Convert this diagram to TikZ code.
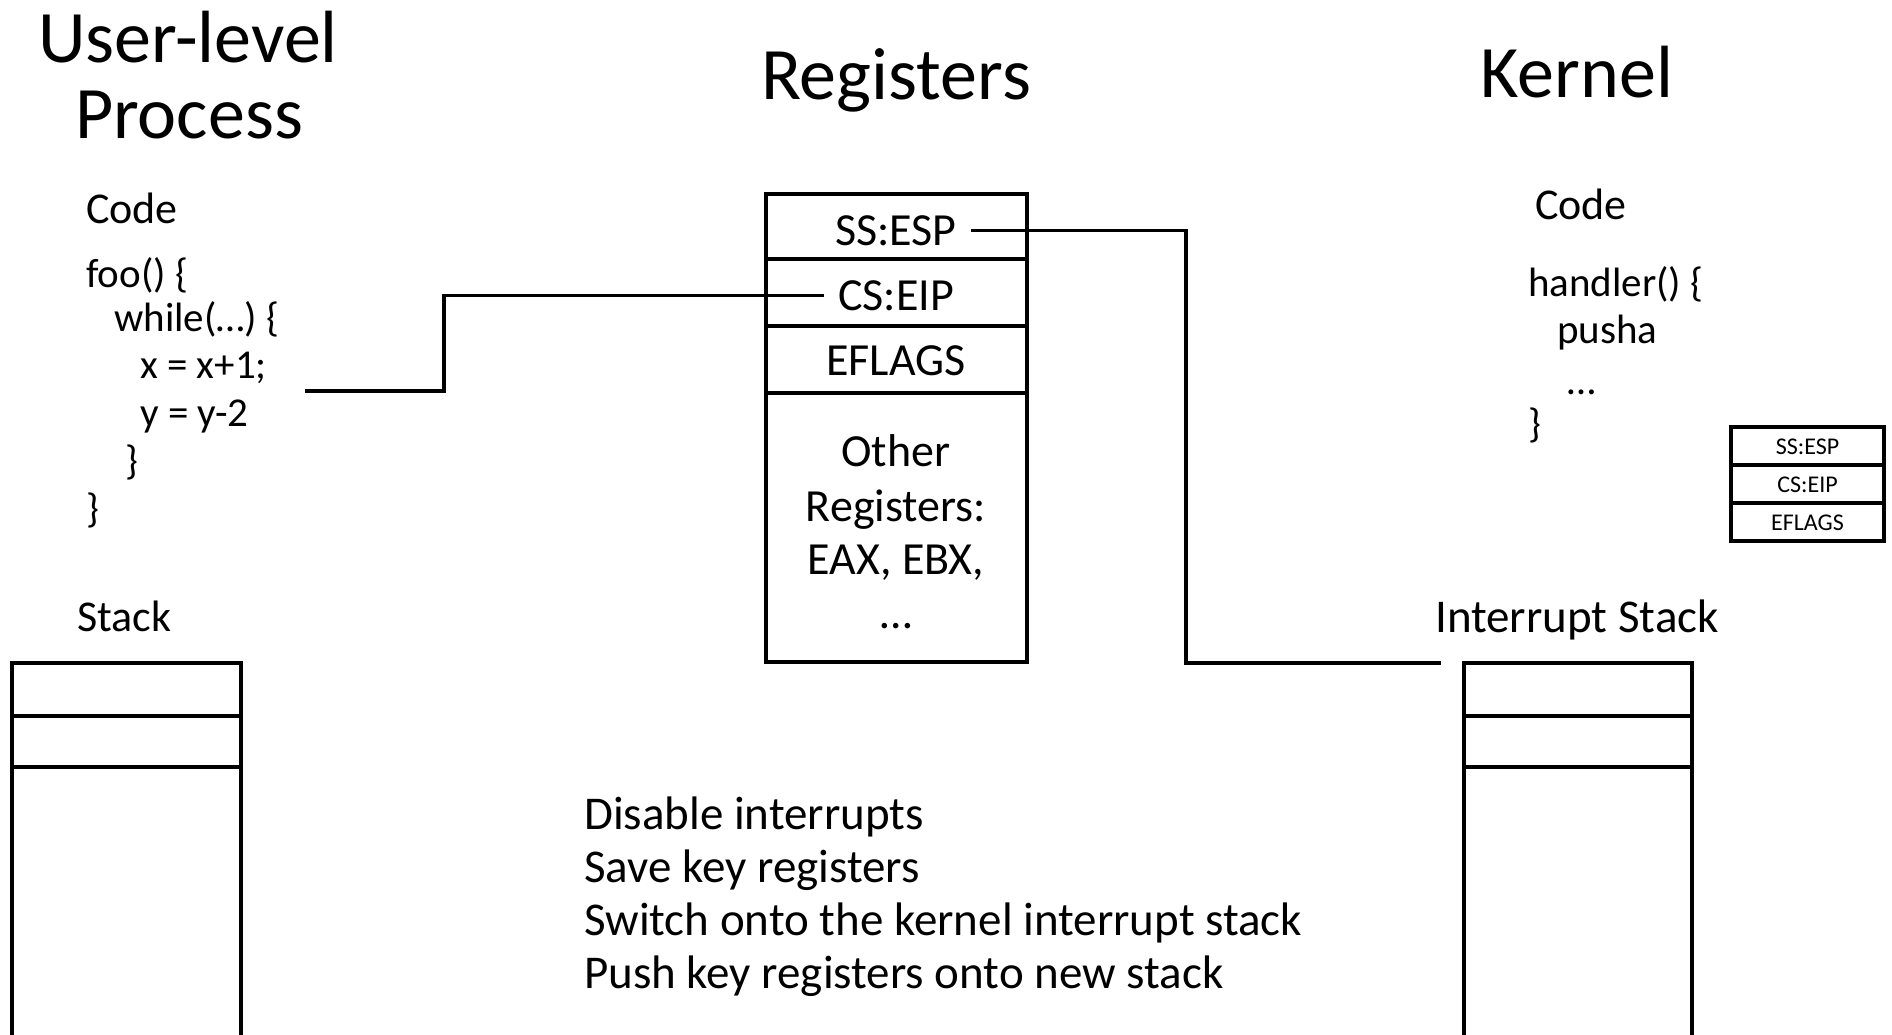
\documentclass[tikz,border=0pt]{standalone}
\usepackage{fontspec}
\setmainfont{Carlito}
\newcommand\fsz[1]{\fontsize{#1}{#1}\selectfont}
\begin{document}
\begin{tikzpicture}[x=1pt,y=-1pt,
  title/.style={font=\fsz{74}, inner sep=0pt, anchor=mid, yshift=-19pt},
  lbl/.style={font=\fsz{44}, inner sep=0pt, anchor=mid west, yshift=-11.5pt},
  codeline/.style={font=\fsz{41}, inner sep=0pt, anchor=mid west, yshift=-10.5pt},
  reg/.style={font=\fsz{46}, inner ysep=0pt, inner xsep=14pt, anchor=mid, yshift=-11pt},
  minireg/.style={font=\fsz{24}, inner sep=0pt, anchor=mid, yshift=-6.5pt},
  note/.style={font=\fsz{47}, inner sep=0pt, anchor=base west},
  frame/.style={line width=3.5pt},
  slot/.style={line width=4.4pt},
  wire/.style={line width=3.2pt}]
\useasboundingbox (0,0) rectangle (1892,1034);

% column headings
\node[title] (tuser) at (188,41) {User-level};
\node[title] (tproc) at (189,117) {Process};
\node[title] (treg)  at (896,78) {Registers};
\node[title] (tkern) at (1577,76) {Kernel};

% user-level code
\node[lbl] (ucode) at (86,210) {Code};
\node[codeline] (u1) at (86,275)  {foo() \{};
\node[codeline] (u2) at (114,319) {while(…) \{};
\node[codeline] (u3) at (140,366) {x = x+1;};
\node[codeline] (u4) at (140,414) {y = y-2};
\node[codeline] (u5) at (125,462) {\}};
\node[codeline] (u6) at (86,510)  {\}};

% user stack
\node[lbl] (ustack) at (77,618) {Stack};
\draw[frame] (12,1040) -- (12,663) -- (241,663) -- (241,1040);
\draw[slot] (12,716) -- (241,716);
\draw[slot] (12,767) -- (241,767);

% register file
\draw[frame] (766,194) rectangle (1027,662);
\draw[frame] (766,259) -- (1027,259);
\draw[frame] (766,326) -- (1027,326);
\draw[frame] (766,393) -- (1027,393);
\node[reg] (sesp) at (896,232) {SS:ESP};
\node[reg] (ceip) at (896,297) {CS:EIP};
\node[reg] (efl)  at (896,362) {EFLAGS};
\node[reg] (o1) at (896,453) {Other};
\node[reg] (o2) at (896,508) {Registers:};
\node[reg] (o3) at (896,561) {EAX, EBX,};
\node[reg, anchor=base, yshift=11pt] (o4) at (896,628) {…};

% kernel code
\node[lbl] (kcode) at (1535,206) {Code};
\node[codeline] (k1) at (1528,284) {handler() \{};
\node[codeline] (k2) at (1557,331) {pusha};
\node[codeline, anchor=base, yshift=10.5pt] (k3) at (1582,394) {…};
\node[codeline] (k4) at (1528,425) {\}};

% saved registers
\draw[frame] (1731,427) rectangle (1884,541);
\draw[frame] (1731,465) -- (1884,465);
\draw[frame] (1731,503) -- (1884,503);
\node[minireg] (m1) at (1807.5,446) {SS:ESP};
\node[minireg] (m2) at (1807.5,484) {CS:EIP};
\node[minireg] (m3) at (1807.5,522) {EFLAGS};

% interrupt stack
\node[lbl, font=\fsz{47}, anchor=mid, yshift=-0.5pt] (kstack) at (1577,618) {Interrupt Stack};
\draw[frame] (1464,1040) -- (1464,663) -- (1692,663) -- (1692,1040);
\draw[slot] (1464,716) -- (1692,716);
\draw[slot] (1464,767) -- (1692,767);

% connectors
\coordinate (pc) at (305,391);
\coordinate (pcbend) at (444,391);
\draw[wire] (pc) -- (pcbend) |- (ceip.west);
\coordinate (spbend) at (1186,663);
\coordinate (isp) at (1441,663);
\draw[wire] (sesp.east) -| (spbend) -- (isp);

% hardware steps
\node[note] (s1) at (584,829) {Disable interrupts};
\node[note] (s2) at (584,882) {Save key registers};
\node[note] (s3) at (584,935) {Switch onto the kernel interrupt stack};
\node[note] (s4) at (584,988) {Push key registers onto new stack};
\end{tikzpicture}
\end{document}
